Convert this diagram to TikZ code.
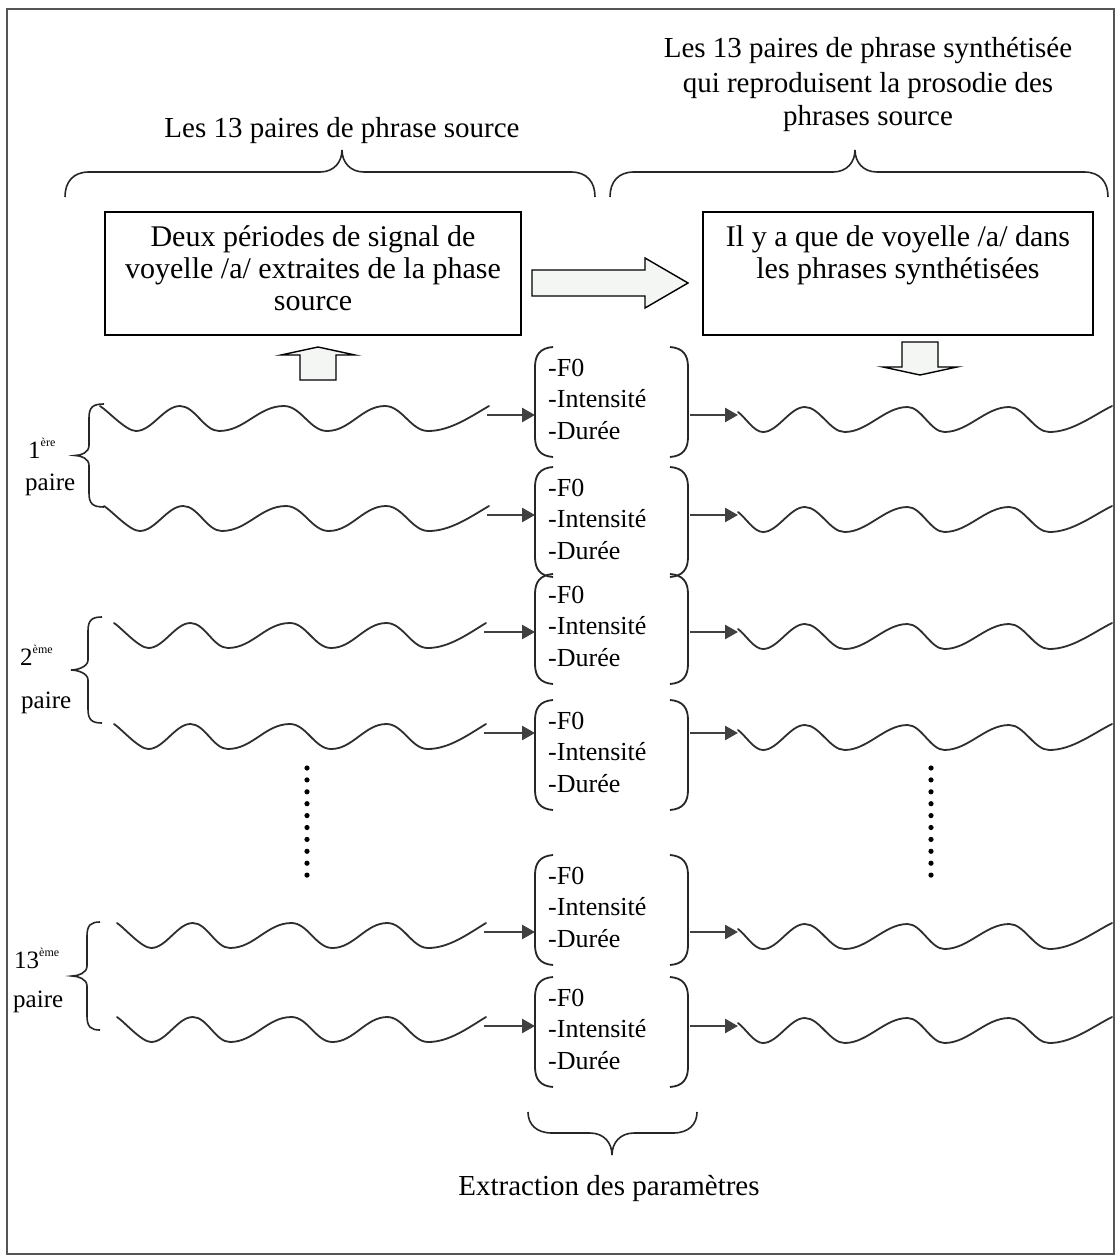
\documentclass[tikz,border=0pt]{standalone}
\usepackage{fontspec}
\setmainfont{Liberation Serif}
\usetikzlibrary{arrows.meta}

\definecolor{framegray}{HTML}{555555}
\definecolor{wavegray}{HTML}{2E2E2E}
\definecolor{arrowfill}{HTML}{F4F6F4}

\tikzset{
  frame/.style={draw=framegray, line width=2.8pt},
  textbox/.style={draw=black, line width=1.8pt, inner sep=0pt},
  wave/.style={draw=wavegray, line width=1.8pt, line join=round, line cap=round},
  feed/.style={draw=black!75, line width=2.6pt, -{Triangle[length=13pt,width=14pt]}},
  blockarrow/.style={draw=black, line width=1.4pt, fill=arrowfill, line join=miter},
  curlybrace/.style={draw=black!85, line width=1.6pt},
  bracket/.style={draw=black!85, line width=1.8pt},
  title/.style={font=\fontsize{29}{34}\selectfont, inner sep=0pt, anchor=base},
  boxtext/.style={font=\fontsize{30}{32}\selectfont, inner sep=0pt, anchor=base},
  param/.style={font=\fontsize{26}{30}\selectfont, inner sep=0pt, anchor=base west},
  pairlabel/.style={font=\fontsize{25}{30}\selectfont, inner sep=0pt, anchor=base west},
}

% source signal: #1 name of its end, #2 start x, #3 end x, #4 level y
\newcommand\leftwave[4]{%
  \pgfmathsetmacro\wscale{(#3-#2)/389}%
  \begin{scope}[shift={(#2,#4)}, xscale=\wscale]
    \draw[wave] (0,-9) .. controls (8,-4) and (26,16) .. (36,16)
      .. controls (52,16) and (64,-9) .. (80,-9)
      .. controls (95,-9) and (104,16) .. (119,16)
      .. controls (145,16) and (158,-9) .. (184,-9)
      .. controls (201,-9) and (210,16) .. (227,16)
      .. controls (250,16) and (262,-9) .. (285,-9)
      .. controls (302,-9) and (311,16) .. (328,16)
      .. controls (350,16) and (370,2) .. (389,-9);
  \end{scope}
  \coordinate (#1) at (#3-2,#4);
}

% synthesised signal: #1 name of its start, #2 start x, #3 end x, #4 level y
\newcommand\rightwave[4]{%
  \pgfmathsetmacro\wscale{(#3-#2)/375}%
  \begin{scope}[shift={(#2,#4)}, xscale=\wscale]
    \draw[wave] (0,-3) .. controls (8,3) and (16,17) .. (25,17)
      .. controls (40,17) and (52,-8) .. (67,-8)
      .. controls (82,-8) and (92,17) .. (107,17)
      .. controls (130,17) and (147,-8) .. (170,-8)
      .. controls (184,-8) and (193,17) .. (207,17)
      .. controls (231,17) and (248,-8) .. (272,-8)
      .. controls (287,-8) and (297,17) .. (312,17)
      .. controls (335,17) and (355,1) .. (375,-9);
  \end{scope}
  \coordinate (#1) at (#2,#4);
}

% parameter list in round brackets: #1 name, #2 top y, #3 arrow level y
\newcommand\paramgroup[3]{%
  \draw[bracket] (553,#2) .. controls (540,#2+1) and (535,#2+8) .. (535,#2+20)
    -- (535,#2+90) .. controls (535,#2+102) and (540,#2+109) .. (553,#2+110);
  \draw[bracket] (670,#2) .. controls (683,#2+1) and (688,#2+8) .. (688,#2+20)
    -- (688,#2+90) .. controls (688,#2+102) and (683,#2+109) .. (670,#2+110);
  \node[param] (#1f) at (548,#2+29) {-F0};
  \node[param] (#1i) at (548,#2+60) {-Intensité};
  \node[param] (#1d) at (548,#2+92) {-Durée};
  \coordinate (#1in) at (535,#3);
  \coordinate (#1out) at (690,#3);
}

% left curly brace of a pair: top y, bottom y, end x, stem x, tip x
\newcommand\pairbrace[5]{%
  \pgfmathsetmacro\bmid{(#1+#2)/2}%
  \draw[curlybrace] (#3,#1) .. controls (#4+4,#1) and (#4,#1+3) .. (#4,#1+14)
    -- (#4,\bmid-10) .. controls (#4,\bmid-3) and (#5+6,\bmid) .. (#5,\bmid)
    .. controls (#5+6,\bmid) and (#4,\bmid+3) .. (#4,\bmid+10)
    -- (#4,#2-14) .. controls (#4,#2-3) and (#4+4,#2) .. (#3,#2);
}

% horizontal brace, tip upwards: left x, right x, tip x
\newcommand\topbrace[3]{%
  \draw[curlybrace] (#1,197) .. controls (#1,182) and (#1+8,172) .. (#1+24,172)
    -- (#3-22,172) .. controls (#3-8,172) and (#3,162) .. (#3,150)
    .. controls (#3,162) and (#3+8,172) .. (#3+22,172)
    -- (#2-24,172) .. controls (#2-8,172) and (#2,182) .. (#2,197);
}

\begin{document}
\begin{tikzpicture}[x=1pt, y=-1pt]
\useasboundingbox (0,0) rectangle (1117,1257);
\fill[white] (0,0) rectangle (1117,1257);
\draw[frame] (7,9) rectangle (1114,1254);

% titles
\node[title] (srctitle) at (342,138) {Les 13 paires de phrase source};
\node[title] (syntitle1) at (868,58) {Les 13 paires de phrase synthétisée};
\node[title] (syntitle2) at (868,93) {qui reproduisent la prosodie des};
\node[title] (syntitle3) at (868,126) {phrases source};

\topbrace{65}{595}{342}
\topbrace{610}{1108}{855}

% boxes
\node[textbox, minimum width=416pt, minimum height=123pt] (srcbox) at (313,273.5) {};
\node[boxtext] (srcl1) at (313,247) {Deux périodes de signal de};
\node[boxtext] (srcl2) at (313,278) {voyelle /a/ extraites de la phase};
\node[boxtext] (srcl3) at (313,310) {source};

\node[textbox, minimum width=390pt, minimum height=123pt] (synbox) at (898,273.5) {};
\node[boxtext] (synl1) at (898,247) {Il y a que de voyelle /a/ dans};
\node[boxtext] (synl2) at (898,278) {les phrases synthétisées};

% block arrows
\def\ac{283}
\draw[blockarrow] (532,\ac-13) -- (645,\ac-13) -- (645,\ac-25) -- (688,\ac)
  -- (645,\ac+25) -- (645,\ac+13) -- (532,\ac+13) -- cycle;
\draw[blockarrow] (300,380) -- (300,355) -- (281,355) -- (318,347) -- (355,355)
  -- (336,355) -- (336,380) -- cycle;
\draw[blockarrow] (902,342) -- (902,367) -- (883,367) -- (920,375) -- (957,367)
  -- (938,367) -- (938,342) -- cycle;

% parameter groups
\paramgroup{g1}{347}{415}
\paramgroup{g2}{467}{515}
\paramgroup{g3}{574}{632}
\paramgroup{g4}{700}{733}
\paramgroup{g5}{855}{932}
\paramgroup{g6}{977}{1026}

% source signals
\leftwave{s1}{100}{489}{415}
\leftwave{s2}{104}{489}{515}
\leftwave{s3}{114}{486}{632}
\leftwave{s4}{114}{486}{733}
\leftwave{s5}{117}{486}{932}
\leftwave{s6}{117}{486}{1026}

% synthesised signals
\rightwave{t1}{738}{1112}{415}
\rightwave{t2}{738}{1112}{515}
\rightwave{t3}{738}{1112}{632}
\rightwave{t4}{738}{1112}{733}
\rightwave{t5}{738}{1112}{932}
\rightwave{t6}{738}{1112}{1026}

% parameter flow
\foreach \i in {1,...,6} {
  \draw[feed] (s\i) -- (g\i in);
  \draw[feed] (g\i out) -- (t\i);
}

% pair labels
\pairbrace{404}{507}{104}{89}{75}
\pairbrace{617}{723}{102}{88}{71}
\pairbrace{922}{1030}{100}{87}{72}
\node[pairlabel] (p1a) at (28,458) {1\raisebox{0.45em}{\fontsize{12}{12}\selectfont ère}};
\node[pairlabel] (p1b) at (25,490) {paire};
\node[pairlabel] (p2a) at (20,665) {2\raisebox{0.45em}{\fontsize{12}{12}\selectfont ème}};
\node[pairlabel] (p2b) at (21,708) {paire};
\node[pairlabel] (p3a) at (14,968) {13\raisebox{0.45em}{\fontsize{12}{12}\selectfont ème}};
\node[pairlabel] (p3b) at (13,1007) {paire};

% ellipsis dots
\foreach \k in {0,...,9} {
  \fill (307,768+11.9*\k) circle[radius=2.6pt];
  \fill (931,768+11.9*\k) circle[radius=2.6pt];
}

% extraction brace
\draw[curlybrace] (528,1112) .. controls (528,1124) and (536,1133) .. (552,1133)
  -- (590,1133) .. controls (604,1133) and (612,1143) .. (612,1155)
  .. controls (612,1143) and (620,1133) .. (634,1133)
  -- (673,1133) .. controls (689,1133) and (697,1124) .. (697,1112);
\node[title] (extract) at (609,1195) {Extraction des paramètres};
\end{tikzpicture}
\end{document}
